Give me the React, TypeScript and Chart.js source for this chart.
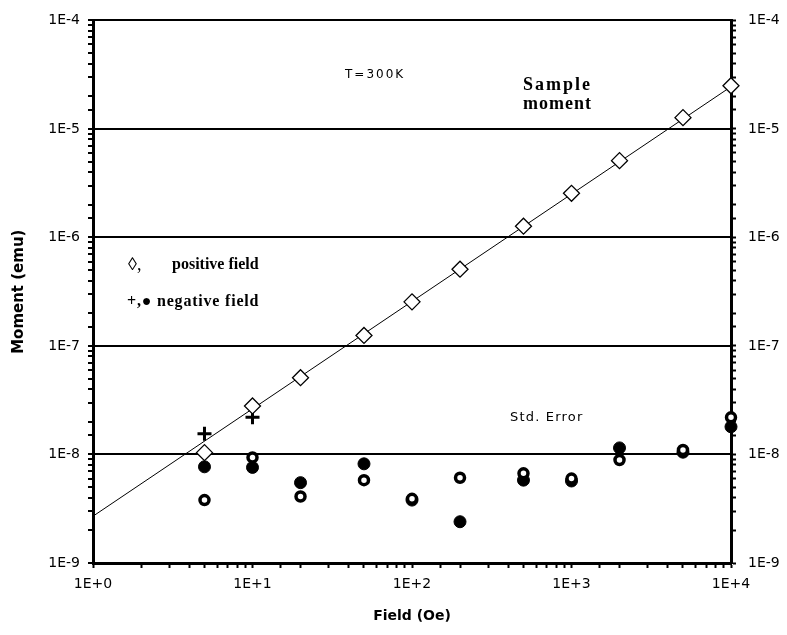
import React, { useEffect, useRef } from "react";
import { Chart, registerables } from "chart.js";

Chart.register(...registerables);

// ---- data ----
const fields = [5, 10, 20, 50, 100, 200, 500, 1000, 2000, 5000, 10000];
const momentPositive = [1.04e-8, 2.8e-8, 5.1e-8, 1.25e-7, 2.55e-7, 5.1e-7, 1.27e-6, 2.55e-6, 5.1e-6, 1.27e-5, 2.5e-5];
const momentNegative = [1.55e-8, 2.2e-8, 5.1e-8, 1.25e-7, 2.55e-7, 5.1e-7, 1.27e-6, 2.55e-6, 5.1e-6, 1.27e-5, 2.5e-5];
const stdErrPositive = [3.8e-9, 9.4e-9, 4.1e-9, 5.8e-9, 3.9e-9, 6.1e-9, 6.7e-9, 6.0e-9, 8.9e-9, 1.1e-8, 2.2e-8];
const stdErrNegative = [7.7e-9, 7.6e-9, 5.5e-9, 8.2e-9, 3.8e-9, 2.4e-9, 5.8e-9, 5.7e-9, 1.15e-8, 1.05e-8, 1.8e-8];
const fitX = [1, 10000];
const fitY = [2.7e-9, 2.45e-5];

const xTickLabels = ["1E+0", "1E+1", "1E+2", "1E+3", "1E+4"];
const yTickLabels = ["1E-9", "1E-8", "1E-7", "1E-6", "1E-5", "1E-4"];
const xMin = 1;
const xMax = 10000;
const yMin = 1e-9;
const yMax = 1e-4;

const toPts = (xs: number[], ys: number[]) => xs.map((x, i) => ({ x, y: ys[i] }));

const isPow10 = (v: number) => {
  const l = Math.log10(v);
  return Math.abs(l - Math.round(l)) < 1e-6;
};

const xLabel = (v: number) => (isPow10(v) ? xTickLabels[Math.round(Math.log10(v))] ?? "" : "");
const yLabel = (v: number) => (isPow10(v) ? yTickLabels[Math.round(Math.log10(v)) + 9] ?? "" : "");

const tickFont = { family: "DejaVu Sans", size: 14 };

export default function App() {
  const ref = useRef<HTMLCanvasElement | null>(null);

  useEffect(() => {
    if (!ref.current) return;
    const chart = new Chart(ref.current, {
      type: "scatter",
      data: {
        datasets: [
          {
            label: "positive moment",
            data: toPts(fields, momentPositive),
            pointStyle: "rectRot",
            pointRadius: 8,
            backgroundColor: "#ffffff",
            borderColor: "#000000",
            borderWidth: 1.3,
            clip: false,
          },
          {
            label: "negative moment",
            data: toPts(fields, momentNegative),
            pointStyle: "cross",
            pointRadius: 7,
            backgroundColor: "#000000",
            borderColor: "#000000",
            borderWidth: 3,
            clip: false,
          },
          {
            label: "positive std error",
            data: toPts(fields, stdErrPositive),
            pointStyle: "circle",
            pointRadius: 4.5,
            backgroundColor: "#ffffff",
            borderColor: "#000000",
            borderWidth: 3.5,
            clip: false,
          },
          {
            label: "negative std error",
            data: toPts(fields, stdErrNegative),
            pointStyle: "circle",
            pointRadius: 6,
            backgroundColor: "#000000",
            borderColor: "#000000",
            borderWidth: 1,
            clip: false,
          },
          {
            label: "fit",
            data: toPts(fitX, fitY),
            showLine: true,
            pointRadius: 0,
            borderColor: "#000000",
            borderWidth: 1,
          },
        ],
      },
      options: {
        responsive: false,
        animation: false,
        layout: { padding: { top: 17, left: 0, right: 0, bottom: 0 } },
        plugins: { legend: { display: false }, tooltip: { enabled: false } },
        scales: {
          x: {
            type: "logarithmic",
            position: "bottom",
            min: xMin,
            max: xMax,
            border: { display: true, color: "#000000", width: 3 },
            grid: {
              drawOnChartArea: false,
              tickColor: "#000000",
              tickLength: 5,
              tickWidth: 2,
            },
            ticks: {
              autoSkip: false,
              maxRotation: 0,
              padding: 8,
              color: "#000000",
              font: tickFont,
              callback: (v: any) => xLabel(Number(v)),
            },
            title: {
              display: true,
              text: "Field (Oe)",
              color: "#000000",
              font: { family: "DejaVu Sans", size: 14, weight: "bold" },
              padding: { top: 0, bottom: 10 },
            },
            afterFit: (s: any) => {
              s.height = 72;
            },
          },
          y: {
            type: "logarithmic",
            position: "left",
            min: yMin,
            max: yMax,
            border: { display: true, color: "#000000", width: 3 },
            grid: {
              drawOnChartArea: true,
              color: (ctx: any) => (ctx.tick && isPow10(ctx.tick.value) ? "#000000" : "rgba(0,0,0,0)"),
              lineWidth: 2,
              tickColor: "#000000",
              tickLength: 5,
              tickWidth: 2,
            },
            ticks: {
              autoSkip: false,
              padding: 8,
              color: "#000000",
              font: tickFont,
              callback: (v: any) => yLabel(Number(v)),
            },
            title: {
              display: true,
              text: "Moment (emu)",
              color: "#000000",
              font: { family: "DejaVu Sans", size: 15, weight: "bold" },
              padding: { top: 10, bottom: 0 },
            },
            afterFit: (s: any) => {
              s.width = 93;
            },
          },
          y2: {
            type: "logarithmic",
            position: "right",
            min: yMin,
            max: yMax,
            border: { display: true, color: "#000000", width: 3 },
            grid: {
              drawOnChartArea: false,
              tickColor: "#000000",
              tickLength: 5,
              tickWidth: 2,
            },
            ticks: {
              autoSkip: false,
              padding: 12,
              color: "#000000",
              font: tickFont,
              callback: (v: any) => yLabel(Number(v)),
            },
            afterFit: (s: any) => {
              s.width = 56;
            },
          },
        },
      },
    });
    return () => chart.destroy();
  }, []);

  const serif = "'Liberation Serif', 'Times New Roman', serif";
  const sans = "'DejaVu Sans', sans-serif";
  const note = (style: React.CSSProperties, text: string, key: string) => (
    <div
      key={key}
      style={{
        position: "absolute",
        whiteSpace: "nowrap",
        color: "#000",
        lineHeight: 1,
        transform: "translateY(-50%)",
        ...style,
      }}
    >
      {text}
    </div>
  );

  return (
    <div style={{ position: "fixed", left: 0, top: 0, width: 787, height: 635, background: "#fff" }}>
      <canvas ref={ref} width={787} height={635} style={{ display: "block" }} />
      {note({ left: 345, top: 74, fontFamily: sans, fontSize: 12, letterSpacing: 2 }, "T=300K", "t")}
      {note({ left: 523, top: 84, fontFamily: serif, fontSize: 18, fontWeight: "bold", letterSpacing: 2 }, "Sample", "s1")}
      {note({ left: 523, top: 103, fontFamily: serif, fontSize: 18, fontWeight: "bold", letterSpacing: 1 }, "moment", "s2")}
      {note({ left: 128, top: 264, fontFamily: serif, fontSize: 18 }, "◊,", "l1a")}
      {note({ left: 172, top: 264, fontFamily: serif, fontSize: 16, fontWeight: "bold" }, "positive field", "l1b")}
      {note({ left: 127, top: 301, fontFamily: serif, fontSize: 16, fontWeight: "bold", letterSpacing: 0.8 }, "+,● negative field", "l2")}
      {note({ left: 510, top: 416, fontFamily: sans, fontSize: 13, letterSpacing: 1.2 }, "Std. Error", "se")}
    </div>
  );
}
